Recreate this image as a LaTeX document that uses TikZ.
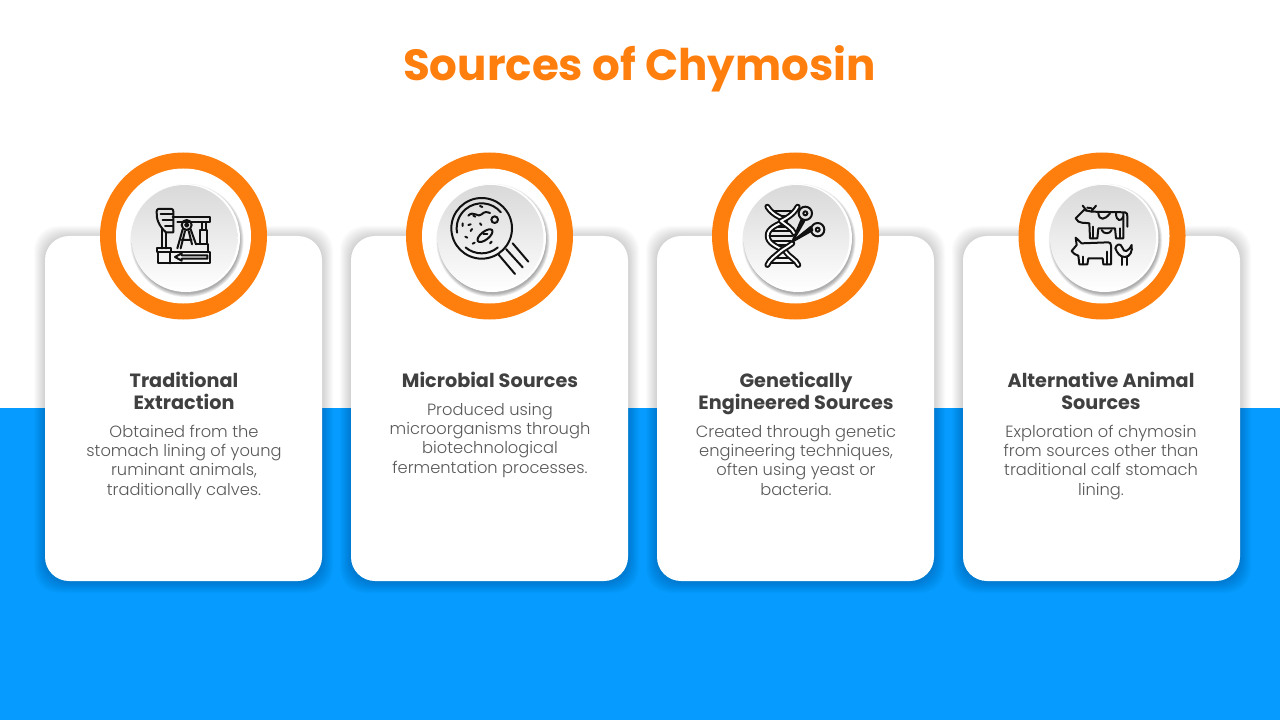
\documentclass[tikz,border=0pt]{standalone}
\usepackage{fontspec}
\setmainfont{Poppins}
\newfontfamily\bodyfont{Poppins Light}
\definecolor{sky}{HTML}{069CFF}
\definecolor{tang}{HTML}{FF7F0E}
\definecolor{headc}{HTML}{404040}
\definecolor{bodyc}{HTML}{595959}
\definecolor{ink}{HTML}{111111}
\tikzset{
  heading/.style={align=center,text=headc,font=\fontsize{14.4pt}{16.5pt}\selectfont\bfseries,inner sep=0pt},
  bodytext/.style={align=center,text=bodyc,font=\bodyfont\fontsize{12.2pt}{14.5pt}\selectfont,inner sep=0pt},
  icon/.style={x=0.25pt,y=-0.25pt,line width=1.5pt,draw=ink,line cap=round,line join=round},
  ring/.style={fill=tang},
  strand/.style={double=white,double distance=1.4pt},
}
\newcommand{\cardbox}[1]{%
  \foreach \k in {11,10,...,1}{
    \fill[black,opacity=0.015,rounded corners=18pt] (#1-\k,236-\k+1) rectangle (#1+277+\k,581+\k+1);
  }
  \fill[white,rounded corners=18pt] (#1,236) rectangle (#1+277,581);
}
\newcommand{\badge}[1]{%
  \fill[ring] (#1,236) circle (83.5);
  \fill[white] (#1,236) circle (67.5);
  \foreach \k in {6,5,...,1}{
    \fill[black,opacity=0.06] (#1+3.5,240.5) circle (52.5+\k*0.7);
  }
  \fill[white] (#1+2.5,238) circle (54);
  \shade[top color=black!15,bottom color=white] (#1+1,238) circle (53);
}
\begin{document}
\begin{tikzpicture}[x=0.75pt,y=-0.75pt]
\useasboundingbox (0,0) rectangle (1280,720);
\fill[white] (0,0) rectangle (1280,720);
\fill[sky] (0,408) rectangle (1280,720);
\cardbox{45}\cardbox{351}\cardbox{657}\cardbox{963}
\badge{183.5}\badge{489.5}\badge{795.5}\badge{1102}

\node[text=tang,font=\fontsize{32.7pt}{36pt}\selectfont\bfseries,inner sep=0pt] (title) at (639.5,69) {Sources of Chymosin};

\node[heading,anchor=north] (h1) at (184,372) {Traditional\\Extraction};
\node[heading,anchor=north] (h2) at (490,372) {Microbial Sources};
\node[heading,anchor=north] (h3) at (796,372) {Genetically\\Engineered Sources};
\node[heading,anchor=north] (h4) at (1101,372) {Alternative Animal\\Sources};
\node[bodytext,anchor=north] (b1) at (184,424.5) {Obtained from the\\stomach lining of young\\ruminant animals,\\traditionally calves.};
\node[bodytext,anchor=north] (b2) at (490,402.5) {Produced using\\microorganisms through\\biotechnological\\fermentation processes.};
\node[bodytext,anchor=north] (b3) at (796,424.5) {Created through genetic\\engineering techniques,\\often using yeast or\\bacteria.};
\node[bodytext,anchor=north] (b4) at (1101,424.5) {Exploration of chymosin\\from sources other than\\traditional calf stomach\\lining.};

% pump jack
\begin{scope}[shift={(90,145)},icon]
\draw (203,322) rectangle (360,355);
\draw (240,322) -- (240,355);
\draw (200,310) rectangle (243,322);
\draw (275,325) -- (255,336) -- (275,347) -- (275,341) -- (352,341) -- (352,331) -- (275,331) -- cycle;
\draw (248,215) -- (360,215) -- (360,232) -- (262,232);
\draw (205,192) -- (245,192) .. controls (249,192) and (250,196) .. (250,200) -- (250,262) -- (228,262) .. controls (208,245) and (198,222) .. (200,200) .. controls (200,195) and (202,192) .. (205,192) -- cycle;
\draw (212,208) -- (248,208) (218,225) -- (248,225) (225,242) -- (248,242);
\draw (215,250) -- (215,310) (228,264) -- (228,310);
\draw (290,240) circle (15) (290,240) circle (5);
\draw (278,253) -- (262,310) (302,253) -- (318,298) (285,258) -- (272,310) (296,258) -- (306,298) (275,285) -- (305,285);
\draw (335,232) -- (335,255) (347,232) -- (347,255);
\draw (330,255) rectangle (350,298);
\draw (318,298) -- (355,298) -- (355,322);
\end{scope}

% magnifier with microbes
\begin{scope}[shift={(400,145)},icon]
\draw (245,250) circle (91);
\draw (245,250) ++(-40:75) arc[start angle=-40,end angle=-190,radius=75];
\draw (245,250) ++(130:75) arc[start angle=130,end angle=50,radius=75];
\draw (284,224) circle (10);
\draw (205,212) .. controls (220,195) and (235,220) .. (245,208) .. controls (252,200) and (260,200) .. (270,204);
\draw[rotate around={38:(255,272)}] (255,272) circle[x radius=27,y radius=12];
\draw (250,268) -- (262,268);
\draw (240,183) -- (247,186) (220,212) -- (226,215) (205,240) -- (212,238) (188,235) -- (188,243) (196,275) -- (202,278) (218,296) -- (224,293) (240,235) -- (244,240) (270,295) -- (275,290) (212,258) -- (216,252);
\draw (295,328) -- (345,387) (318,312) -- (368,367) (338,295) -- (385,350);
\end{scope}

% DNA and scissors
\begin{scope}[shift={(705,145)},icon]
\draw (200,198) -- (265,198) (215,212) -- (250,212) (205,245) -- (250,245) (198,258) -- (258,258) (195,272) -- (262,272) (198,287) -- (258,287) (210,300) -- (245,300) (215,340) -- (250,340) (200,354) -- (265,354);
\draw[strand] (187,185) .. controls (205,215) and (240,220) .. (240,228) .. controls (215,240) and (188,250) .. (188,272) .. controls (188,295) and (215,305) .. (240,318) .. controls (250,335) and (275,345) .. (280,360);
\draw[strand] (278,185) .. controls (265,210) and (240,222) .. (228,228) .. controls (240,238) and (262,250) .. (268,265);
\draw[strand] (262,295) .. controls (250,305) and (235,312) .. (228,318) .. controls (215,330) and (192,345) .. (187,360);
\draw (301,205) circle (20) (301,205) circle (6) (338,254) circle (20) (338,254) circle (6);
\draw[fill=ink] (290,222) -- (262,290) -- (298,228) -- cycle;
\draw[fill=ink] (318,245) -- (262,290) -- (322,256) -- cycle;
\end{scope}

% farm animals
\begin{scope}[shift={(1010,145)},icon]
\draw (245,200) -- (345,202) .. controls (352,203) and (352,208) .. (352,215) -- (352,245);
\draw (340,205) -- (340,280) -- (318,280) -- (315,250) -- (265,250) -- (262,280) -- (240,280) -- (238,235) .. controls (225,232) and (205,238) .. (197,220) -- (222,195) -- (245,200);
\draw (218,182) -- (230,197) (258,182) -- (245,198) (232,188) -- (245,190);
\draw (265,205) .. controls (268,228) and (285,225) .. (300,205);
\draw (318,205) .. controls (318,230) and (335,230) .. (340,215);
\draw (275,255) .. controls (280,268) and (300,268) .. (305,255);
\draw (250,245) -- (250,280) (330,250) -- (330,280);
\draw (197,278) -- (215,295) -- (295,292) .. controls (300,292) and (303,296) .. (303,302) -- (303,358) -- (280,358) -- (278,340) -- (235,340) -- (232,358) -- (208,358) -- (205,332) .. controls (195,330) and (190,325) .. (185,318) -- (200,300) -- cycle;
\draw (290,320) -- (290,358) (220,335) -- (220,358);
\draw (316,310) .. controls (318,298) and (332,292) .. (337,308) .. controls (342,325) and (355,320) .. (365,300) .. controls (368,320) and (360,335) .. (345,336) .. controls (330,336) and (322,325) .. (316,310) -- cycle;
\draw (335,336) -- (335,360) (350,336) -- (350,360);
\end{scope}
\end{tikzpicture}
\end{document}
